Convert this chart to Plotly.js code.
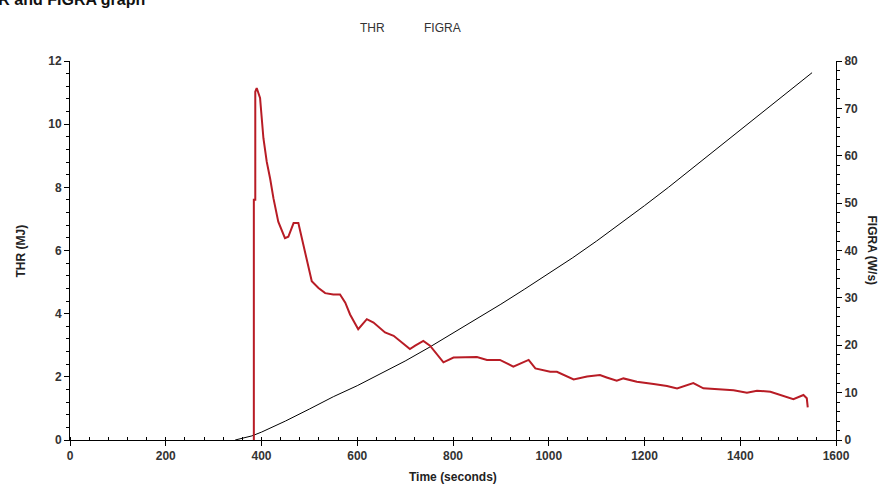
<!DOCTYPE html>
<html>
<head>
<meta charset="utf-8">
<script src="https://cdn.plot.ly/plotly-3.0.1.min.js"></script>
<style>
html,body{margin:0;padding:0;background:#fff;}
#chart{width:890px;height:491px;}
</style>
</head>
<body>
<div id="chart"></div>
<script>
// THR (black, left axis, MJ)
var thrTime = [345, 360, 380, 400, 450, 500, 550, 600, 650, 700, 750, 800, 850, 900, 950, 1000, 1050, 1100, 1150, 1200, 1250, 1300, 1350, 1400, 1450, 1500, 1550];
var thrVal  = [0, 0.05, 0.13, 0.25, 0.6, 0.98, 1.37, 1.72, 2.1, 2.5, 2.93, 3.38, 3.83, 4.3, 4.78, 5.27, 5.77, 6.3, 6.85, 7.42, 8.0, 8.6, 9.2, 9.8, 10.42, 11.03, 11.63];

// FIGRA (red, right axis, W/s)
var figTime = [384,384,387,387,390,397,404,411,418,425,435,449,456,467,477,484,495,505,519,533,550,564,575,585,602,620,634,658,676,693,710,721,738,752,766,780,801,822,836,850,871,898,926,944,958,972,989,1003,1017,1031,1052,1080,1107,1121,1142,1156,1184,1219,1247,1268,1302,1323,1358,1386,1414,1435,1463,1490,1511,1532,1539,1541];
var figVal  = [0,50.7,50.7,73.5,74.3,72.2,63.7,58.7,55.2,51.0,46.1,42.6,42.9,45.8,45.8,42.6,37.7,33.5,32.1,31.0,30.7,30.7,29.0,26.5,23.4,25.5,24.8,22.7,22.0,20.6,19.2,19.9,20.9,19.9,18.1,16.4,17.4,17.4,17.5,17.5,16.9,16.9,15.5,16.2,16.9,15.1,14.8,14.4,14.4,13.7,12.8,13.4,13.7,13.2,12.5,13.0,12.3,11.8,11.4,10.9,12.0,10.9,10.7,10.5,10.0,10.4,10.2,9.3,8.6,9.5,8.8,6.9];

var chartTitle = "THR and FIGRA graph";
var legendNames = ["THR", "FIGRA"];
var xTitle = "Time (seconds)";
var yTitle = "THR (MJ)";
var y2Title = "FIGRA (W/s)";

var fam = "Liberation Sans, Arial, sans-serif";
var tickFont = {family: fam, size: 12, color: "#333", weight: "bold"};

var traces = [
  {x: thrTime, y: thrVal, type: "scatter", mode: "lines", name: legendNames[0],
   line: {color: "#000", width: 1}, yaxis: "y"},
  {x: figTime, y: figVal, type: "scatter", mode: "lines", name: legendNames[1],
   line: {color: "#b81c25", width: 2}, yaxis: "y2"}
];

var layout = {
  width: 890, height: 491,
  margin: {l: 70, r: 54, t: 61, b: 51},
  paper_bgcolor: "#fff", plot_bgcolor: "#fff",
  showlegend: false,
  xaxis: {
    range: [0, 1600], dtick: 200, tick0: 0,
    showgrid: false, zeroline: false,
    showline: true, linecolor: "#000", linewidth: 1,
    ticks: "outside", ticklen: 5, tickcolor: "#000",
    minor: {dtick: 40, ticks: "inside", ticklen: 3, tickcolor: "#000", showgrid: false},
    tickfont: tickFont
  },
  yaxis: {
    range: [0, 12], dtick: 2, tick0: 0,
    showgrid: false, zeroline: false,
    showline: true, linecolor: "#000", linewidth: 1,
    ticks: "outside", ticklen: 5, tickcolor: "#000",
    minor: {dtick: 0.4, ticks: "outside", ticklen: 3, tickcolor: "#000", showgrid: false},
    tickfont: tickFont
  },
  yaxis2: {
    range: [0, 80], dtick: 10, tick0: 0,
    overlaying: "y", side: "right",
    showgrid: false, zeroline: false,
    showline: true, linecolor: "#000", linewidth: 1,
    ticks: "outside", ticklen: 5, tickcolor: "#000",
    minor: {dtick: 2, ticks: "outside", ticklen: 3, tickcolor: "#000", showgrid: false},
    tickfont: tickFont
  },
  annotations: [
    {text: "<b>" + chartTitle + "</b>", xref: "paper", yref: "paper",
     x: -0.124, y: 1.135, xanchor: "left", yanchor: "bottom", showarrow: false,
     font: {family: fam, size: 16, color: "#111"}},
    {text: legendNames[0], xref: "paper", yref: "paper",
     x: (372 - 70) / 766, y: (440 - 29) / 378, xanchor: "center", yanchor: "middle", showarrow: false,
     font: {family: fam, size: 12, color: "#333"}},
    {text: legendNames[1], xref: "paper", yref: "paper",
     x: (442 - 70) / 766, y: (440 - 29) / 378, xanchor: "center", yanchor: "middle", showarrow: false,
     font: {family: fam, size: 12, color: "#333"}},
    {text: "<b>" + xTitle + "</b>", xref: "paper", yref: "paper",
     x: 0.5, y: (440 - 477) / 378, xanchor: "center", yanchor: "middle", showarrow: false,
     font: {family: fam, size: 12, color: "#222"}},
    {text: "<b>" + yTitle + "</b>", xref: "paper", yref: "paper",
     x: (20 - 70) / 766, y: 0.5, xanchor: "center", yanchor: "middle", showarrow: false,
     textangle: -90, font: {family: fam, size: 12, color: "#222"}},
    {text: "<b>" + y2Title + "</b>", xref: "paper", yref: "paper",
     x: (872 - 70) / 766, y: 0.5, xanchor: "center", yanchor: "middle", showarrow: false,
     textangle: 90, font: {family: fam, size: 12, color: "#222"}}
  ]
};

Plotly.newPlot("chart", traces, layout, {displayModeBar: false, staticPlot: true});
</script>
</body>
</html>
